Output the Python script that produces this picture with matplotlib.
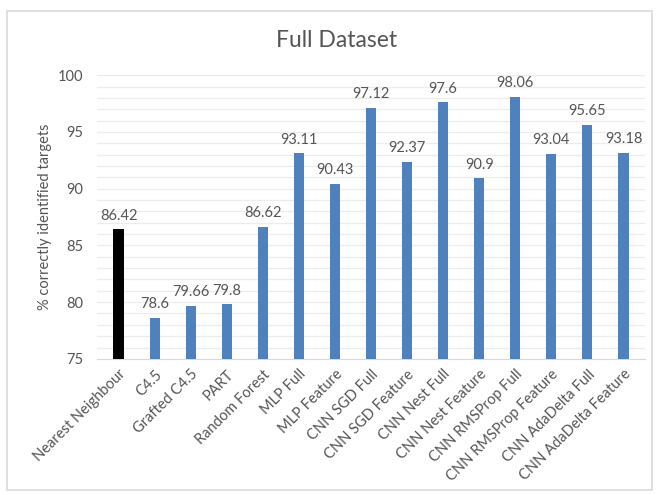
import matplotlib
matplotlib.use("Agg")
import matplotlib.pyplot as plt
from matplotlib.patches import Rectangle

categories = ["Nearest Neighbour", "C4.5", "Grafted C4.5", "PART", "Random Forest",
              "MLP Full", "MLP Feature", "CNN SGD Full", "CNN SGD Feature",
              "CNN Nest Full", "CNN Nest Feature", "CNN RMSProp Full",
              "CNN RMSProp Feature", "CNN AdaDelta Full", "CNN AdaDelta Feature"]
values = [86.42, 78.6, 79.66, 79.8, 86.62, 93.11, 90.43, 97.12, 92.37,
          97.6, 90.9, 98.06, 93.04, 95.65, 93.18]
value_labels = ["86.42", "78.6", "79.66", "79.8", "86.62", "93.11", "90.43", "97.12",
                "92.37", "97.6", "90.9", "98.06", "93.04", "95.65", "93.18"]
colors = ["#000000"] + ["#4F81BD"] * (len(categories) - 1)
yticks = [75, 80, 85, 90, 95, 100]

plt.rcParams['font.family'] = ['Lato', 'DejaVu Sans']
text_col = "#555555"

fig = plt.figure(figsize=(6.59, 4.95), dpi=100)
fig.patches.append(Rectangle((0.011, 0.01), 0.978, 0.968, transform=fig.transFigure,
                             fill=False, edgecolor="#D9D9D9", linewidth=1.2))
ax = fig.add_axes([0.147, 0.275, 0.832, 0.573])

x = list(range(len(categories)))
ax.bar(x, values, width=0.28, color=colors, zorder=3)
for xi, v, lab in zip(x, values, value_labels):
    ax.text(xi, v + 0.6, lab, ha="center", va="bottom", fontsize=10.5, color=text_col)

ax.set_ylim(75, 100)
ax.set_xlim(-0.6, len(categories) - 0.4)
ax.set_yticks(yticks)
ax.set_yticks(range(75, 101), minor=True)
ax.grid(axis="y", which="both", color="#ECECEC", linewidth=0.9, zorder=0)
ax.tick_params(axis="y", which="both", length=0, labelsize=10.5, labelcolor=text_col, pad=10)
ax.set_xticks(x)
ax.set_xticklabels(categories, rotation=45, ha="right", rotation_mode="anchor",
                   fontsize=10.5, color=text_col)
ax.tick_params(axis="x", length=0, pad=6)
for s in ["top", "right", "left"]:
    ax.spines[s].set_visible(False)
ax.spines["bottom"].set_color("#D9D9D9")
ax.set_ylabel("% correctly identified targets", fontsize=10.5, color=text_col, labelpad=4)
fig.text(0.51, 0.918, "Full Dataset", ha="center", va="center", fontsize=16.5, color=text_col)

fig.savefig("out.png", dpi=100)
